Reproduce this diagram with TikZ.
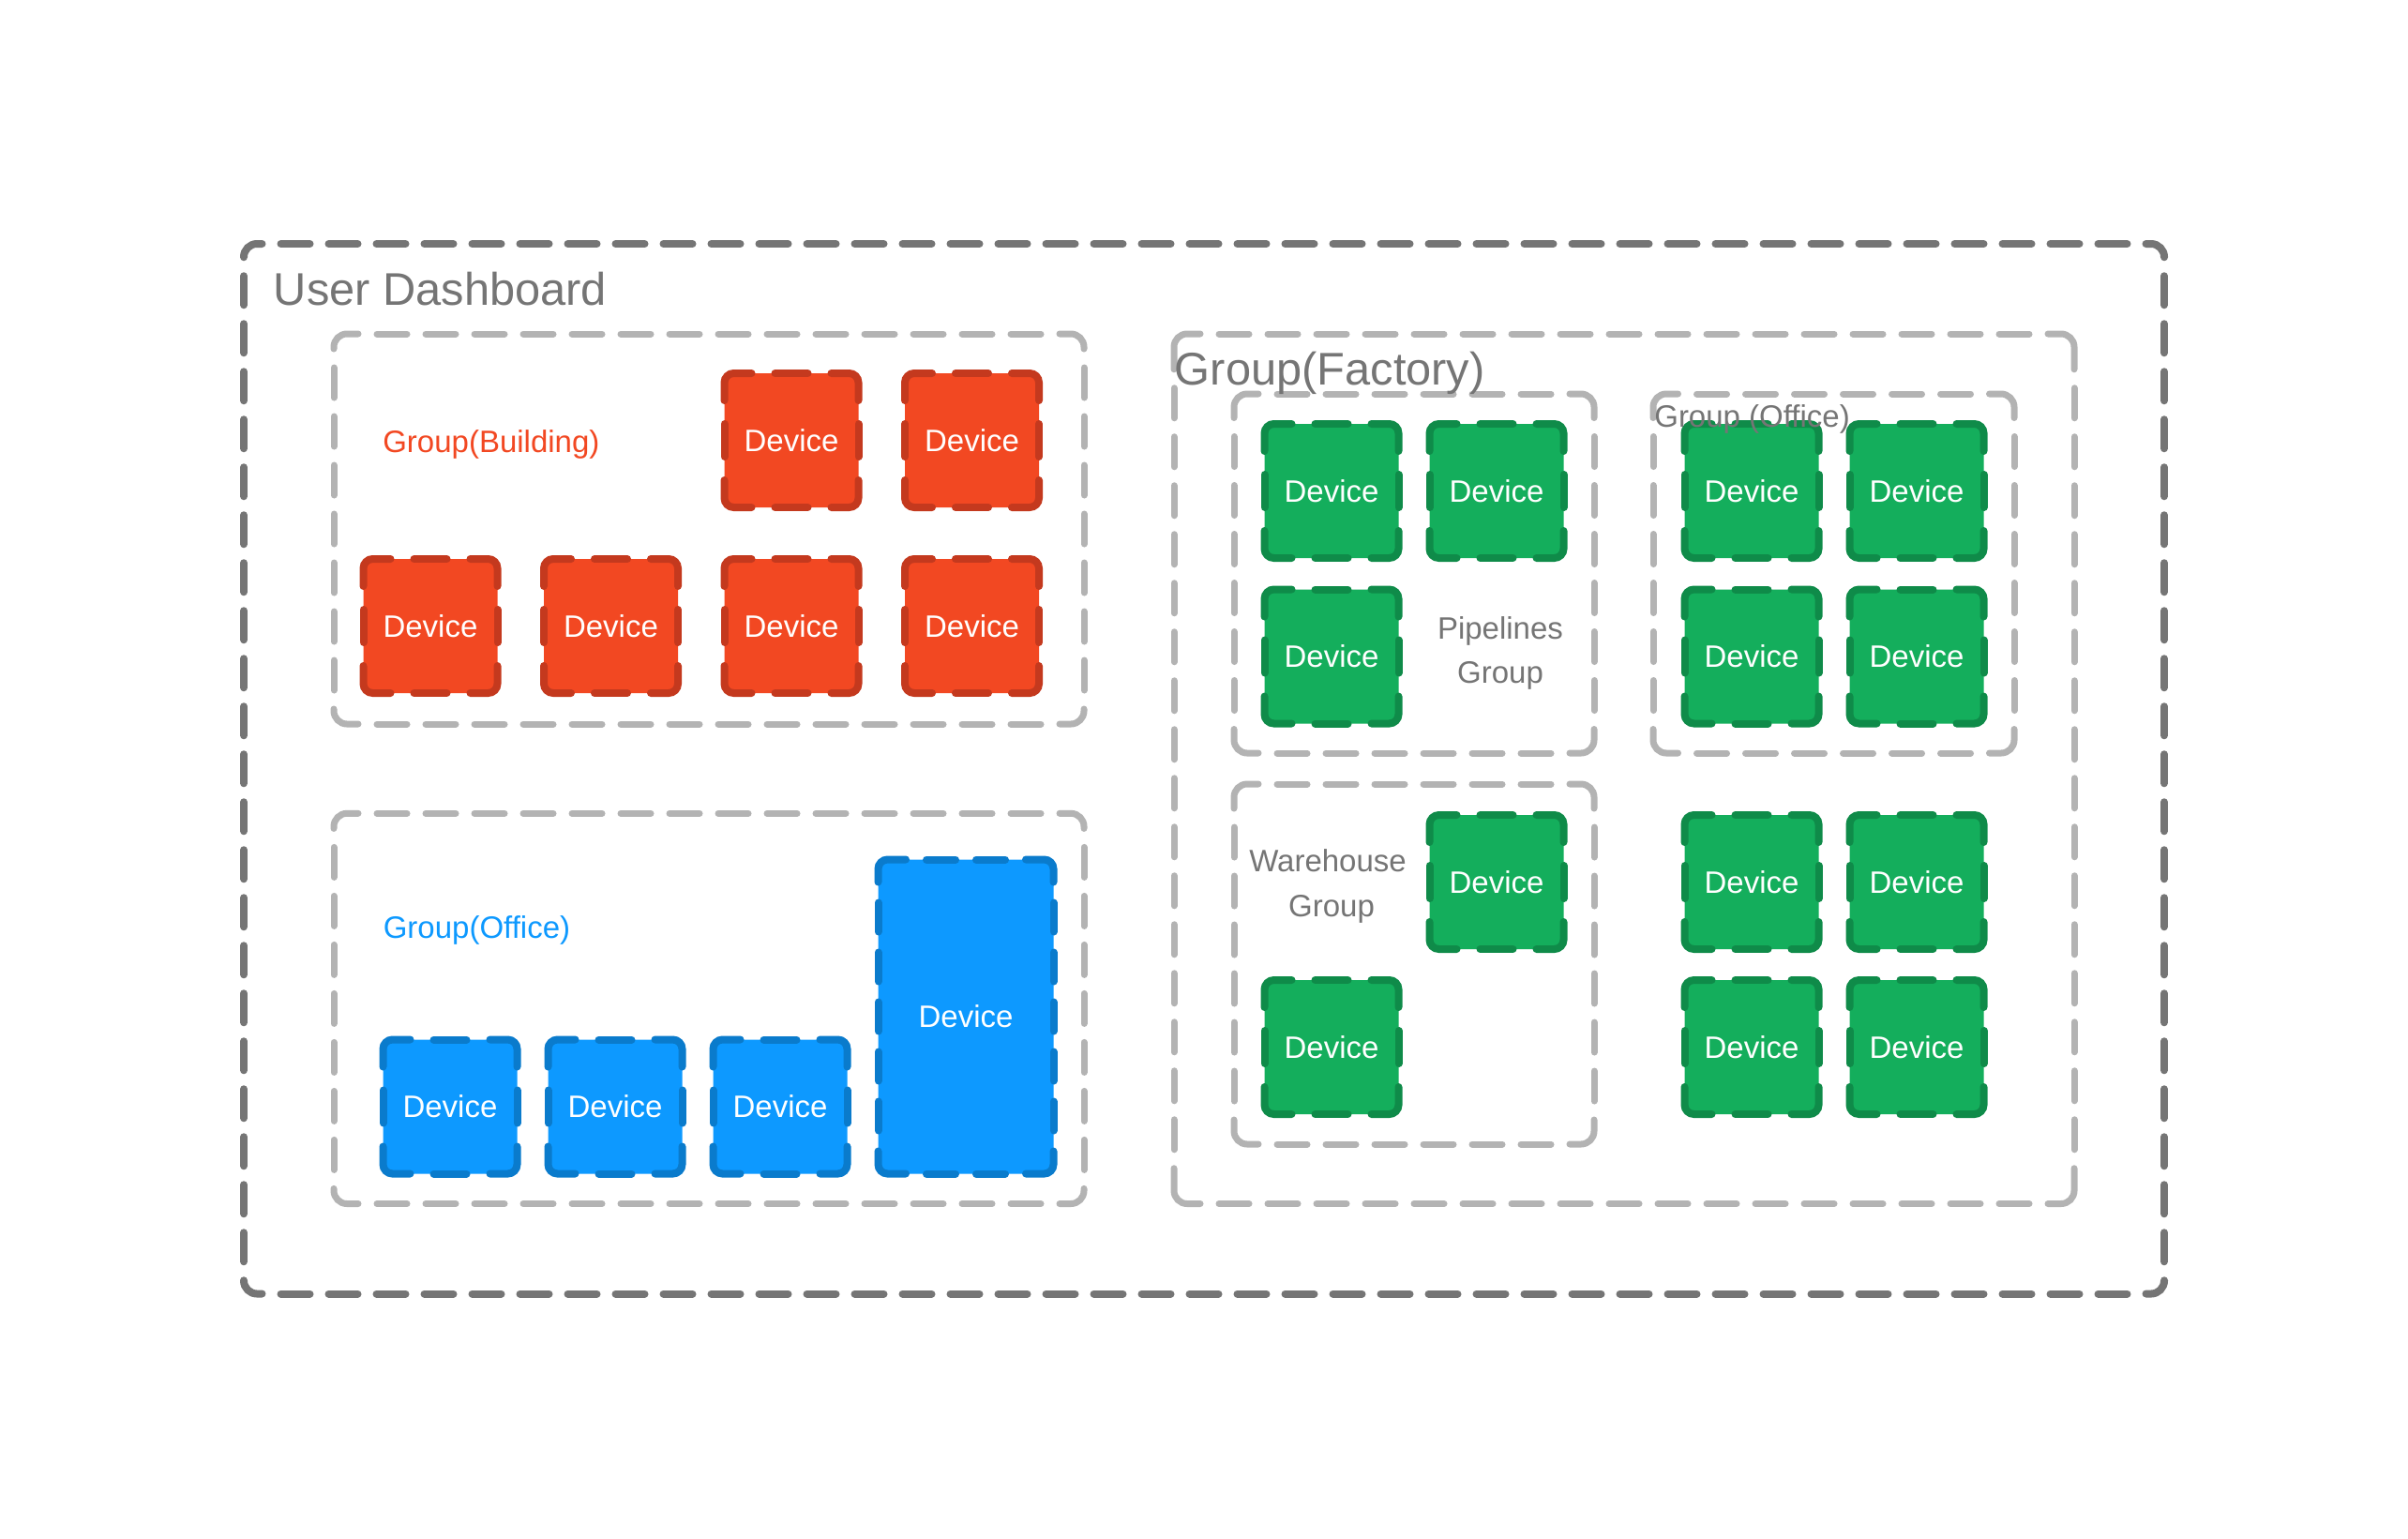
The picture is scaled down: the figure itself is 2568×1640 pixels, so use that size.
\documentclass[tikz,border=0pt]{standalone}
\usepackage{fontspec}
\setmainfont{Liberation Sans}
\definecolor{outergray}{HTML}{757575}
\definecolor{boxgray}{HTML}{B3B3B3}
\definecolor{labelgray}{HTML}{757575}
\definecolor{redfill}{HTML}{F24822}
\definecolor{redline}{HTML}{C4391E}
\definecolor{redtext}{HTML}{F24822}
\definecolor{bluefill}{HTML}{0D99FF}
\definecolor{blueline}{HTML}{0A7BCC}
\definecolor{bluetext}{HTML}{0D99FF}
\definecolor{greenfill}{HTML}{14AE5C}
\definecolor{greenline}{HTML}{0F8B49}

% dashed rounded box: x1 y1 x2 y2 (px, centre line), r, dash on, gap, corner stub, style
\newcommand\dbox[9]{%
  \pgfmathsetmacro\dbSH{#3-#1-2*#5}%
  \pgfmathsetmacro\dbSV{#4-#2-2*#5}%
  \pgfmathsetmacro\dbKH{max(0,round((\dbSH-2*#8-#7)/(#6+#7)))}%
  \pgfmathsetmacro\dbKV{max(0,round((\dbSV-2*#8-#7)/(#6+#7)))}%
  \pgfmathsetmacro\dbTH{(\dbSH-\dbKH*#6-(\dbKH+1)*#7)/2}%
  \pgfmathsetmacro\dbTV{(\dbSV-\dbKV*#6-(\dbKV+1)*#7)/2}%
  \pgfmathsetmacro\dbR{#5*0.25}%
  \pgfmathsetmacro\dbM{#6*0.25}%
  \pgfmathsetmacro\dbG{#7*0.25}%
  \draw[#9, rounded corners=\dbR pt] (#1,#2+#5+\dbTV) -- (#1,#2) -- (#1+#5+\dbTH,#2);
  \draw[#9, rounded corners=\dbR pt] (#3-#5-\dbTH,#2) -- (#3,#2) -- (#3,#2+#5+\dbTV);
  \draw[#9, rounded corners=\dbR pt] (#3,#4-#5-\dbTV) -- (#3,#4) -- (#3-#5-\dbTH,#4);
  \draw[#9, rounded corners=\dbR pt] (#1+#5+\dbTH,#4) -- (#1,#4) -- (#1,#4-#5-\dbTV);
  \draw[#9, dash pattern=on \dbM pt off \dbG pt] (#1+#5+\dbTH+#7,#2) -- (#3-#5-\dbTH-#7,#2);
  \draw[#9, dash pattern=on \dbM pt off \dbG pt] (#1+#5+\dbTH+#7,#4) -- (#3-#5-\dbTH-#7,#4);
  \draw[#9, dash pattern=on \dbM pt off \dbG pt] (#1,#2+#5+\dbTV+#7) -- (#1,#4-#5-\dbTV-#7);
  \draw[#9, dash pattern=on \dbM pt off \dbG pt] (#3,#2+#5+\dbTV+#7) -- (#3,#4-#5-\dbTV-#7);
}

% device: name, outer x0 y0 x1 y1 (px), fill, stroke, dash on, gap
\newcommand\dev[9]{%
  \pgfmathsetmacro\dvax{#2+4}%
  \pgfmathsetmacro\dvay{#3+4}%
  \pgfmathsetmacro\dvbx{#4-4}%
  \pgfmathsetmacro\dvby{#5-4}%
  \fill[#6, rounded corners=2.5pt] (\dvax,\dvay) rectangle (\dvbx,\dvby);
  \dbox{\dvax}{\dvay}{\dvbx}{\dvby}{10}{#8}{#9}{19}{devline,draw=#7}
  \node[devtext] (#1) at ({(\dvax+\dvbx)/2},{(\dvay+\dvby)/2}) {Device};
}

\begin{document}
\begin{tikzpicture}[x=0.25pt,y=-0.25pt,
  outerline/.style={draw=outergray, line width=2pt, line cap=round},
  boxline/.style={draw=boxgray, line width=1.75pt, line cap=round},
  devline/.style={line width=2pt, line cap=round},
  devtext/.style={font=\fontsize{8.25}{10}\selectfont, text=white, inner sep=0pt, anchor=center},
  biglabel/.style={font=\fontsize{12.2}{14}\selectfont, text=labelgray, inner sep=0pt, anchor=base west},
  smalllabel/.style={font=\fontsize{8.25}{10}\selectfont, inner sep=0pt}]

\useasboundingbox (0,0) rectangle (2568,1640);
\fill[white] (0,0) rectangle (2568,1640);

% containers
\dbox{260}{260}{2308}{1379.5}{14}{31}{20}{13}{outerline}
\dbox{356}{356}{1156}{772}{14}{32}{20}{13}{boxline}
\dbox{356}{867.3}{1156}{1283.5}{14}{32}{20}{13}{boxline}
\dbox{1252}{356}{2212}{1283.5}{14}{32}{20}{13}{boxline}
\dbox{1316}{420}{1700}{803}{14}{32}{20}{13}{boxline}
\dbox{1763}{420}{2148}{803}{14}{32}{20}{13}{boxline}
\dbox{1316}{836}{1700}{1220}{14}{32}{20}{13}{boxline}

% red devices
\dev{r1}{768.5}{394}{919.5}{545}{redfill}{redline}{35}{25}
\dev{r2}{961}{394}{1112}{545}{redfill}{redline}{35}{25}
\dev{r3}{383.5}{592}{534.5}{743}{redfill}{redline}{35}{25}
\dev{r4}{576}{592}{727}{743}{redfill}{redline}{35}{25}
\dev{r5}{768.5}{592}{919.5}{743}{redfill}{redline}{35}{25}
\dev{r6}{961}{592}{1112}{743}{redfill}{redline}{35}{25}

% blue devices
\dev{b1}{404.5}{1104.5}{555.5}{1255.5}{bluefill}{blueline}{35}{25}
\dev{b2}{580.5}{1104.5}{731.5}{1255.5}{bluefill}{blueline}{35}{25}
\dev{b3}{756.5}{1104.5}{907.5}{1255.5}{bluefill}{blueline}{35}{25}
\dev{b4}{932.5}{912.5}{1127.5}{1255.5}{bluefill}{blueline}{31}{22}

% green devices
\dev{g1}{1344.5}{448}{1495.5}{599}{greenfill}{greenline}{35}{25}
\dev{g2}{1520.5}{448}{1671.5}{599}{greenfill}{greenline}{35}{25}
\dev{g3}{1344.5}{624.5}{1495.5}{775.5}{greenfill}{greenline}{35}{25}
\dev{g4}{1792.5}{448}{1943.5}{599}{greenfill}{greenline}{35}{25}
\dev{g5}{1968.5}{448}{2119.5}{599}{greenfill}{greenline}{35}{25}
\dev{g6}{1792.5}{624.5}{1943.5}{775.5}{greenfill}{greenline}{35}{25}
\dev{g7}{1968.5}{624.5}{2119.5}{775.5}{greenfill}{greenline}{35}{25}
\dev{g8}{1520.5}{865}{1671.5}{1016}{greenfill}{greenline}{35}{25}
\dev{g9}{1344.5}{1041}{1495.5}{1192}{greenfill}{greenline}{35}{25}
\dev{g10}{1792.5}{865}{1943.5}{1016}{greenfill}{greenline}{35}{25}
\dev{g11}{1968.5}{865}{2119.5}{1016}{greenfill}{greenline}{35}{25}
\dev{g12}{1792.5}{1041}{1943.5}{1192}{greenfill}{greenline}{35}{25}
\dev{g13}{1968.5}{1041}{2119.5}{1192}{greenfill}{greenline}{35}{25}

% labels
\node[biglabel] (lblUser) at (291,325) {User Dashboard};
\node[biglabel] (lblFactory) at (1252,410) {Group(Factory)};
\node[smalllabel, anchor=base west, text=redtext] (lblBuilding) at (407.5,482) {Group(Building)};
\node[smalllabel, anchor=base west, text=bluetext] (lblOfficeA) at (408,1000.5) {Group(Office)};
\node[smalllabel, anchor=base west, text=labelgray] (lblOfficeB) at (1763.5,455) {Group (Office)};
\node[smalllabel, anchor=base, text=labelgray] (lblPipeA) at (1600,681) {Pipelines};
\node[smalllabel, anchor=base, text=labelgray] (lblPipeB) at (1600,728.5) {Group};
\node[smalllabel, anchor=base, text=labelgray] (lblWareA) at (1416,929.6) {Warehouse};
\node[smalllabel, anchor=base, text=labelgray] (lblWareB) at (1420,977.3) {Group};
\end{tikzpicture}
\end{document}
